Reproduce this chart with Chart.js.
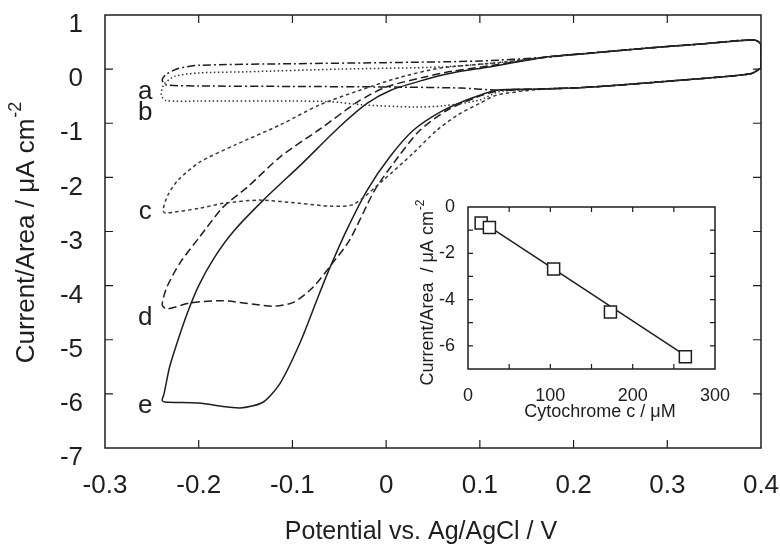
<!DOCTYPE html>
<html>
<head>
<meta charset="utf-8">
<script src="https://cdn.jsdelivr.net/npm/chart.js@4.4.0/dist/chart.umd.min.js"></script>
<style>
    body { margin: 0; background: #fff; }
    #wrap { position: relative; width: 780px; height: 547px; }
    #mainChart { position: absolute; left: 0; top: 0; }
    #insetChart { position: absolute; left: 395px; top: 195px; }
</style>
</head>
<body>
<div id="wrap">
    <canvas id="mainChart" width="780" height="547"></canvas>
    <canvas id="insetChart" width="340" height="230"></canvas>
</div>
<script>
// Voltammogramas a-e: potencial (V) y corriente (uA cm-2), cada uno es un lazo cerrado
var aPotential = [0.40, 0.40, 0.393, 0.34, 0.28, 0.22, 0.17, 0.10, 0.00, -0.10, -0.20, -0.222, -0.235, -0.239, -0.235, -0.20, -0.10, 0.00, 0.08, 0.12, 0.16, 0.21, 0.26, 0.31, 0.36, 0.39, 0.40];
var aCurrent = [0.02, 0.45, 0.54, 0.47, 0.39, 0.30, 0.22, 0.15, 0.12, 0.10, 0.07, 0.01, -0.10, -0.20, -0.29, -0.31, -0.32, -0.33, -0.35, -0.39, -0.37, -0.34, -0.28, -0.21, -0.14, -0.08, 0.02];

var bPotential = [0.40, 0.40, 0.393, 0.34, 0.28, 0.22, 0.17, 0.12, 0.06, -0.05, -0.15, -0.20, -0.225, -0.237, -0.24, -0.235, -0.20, -0.10, -0.06, -0.025, 0.03, 0.06, 0.10, 0.12, 0.16, 0.21, 0.26, 0.31, 0.36, 0.39, 0.40];
var bCurrent = [0.02, 0.45, 0.54, 0.47, 0.39, 0.30, 0.22, 0.12, 0.04, 0.00, -0.05, -0.07, -0.13, -0.28, -0.48, -0.58, -0.59, -0.59, -0.60, -0.66, -0.70, -0.68, -0.57, -0.42, -0.37, -0.34, -0.28, -0.21, -0.14, -0.08, 0.02];

var cPotential = [0.40, 0.40, 0.393, 0.34, 0.28, 0.22, 0.17, 0.12, 0.058, 0.015, -0.028, -0.071, -0.113, -0.161, -0.199, -0.222, -0.233, -0.238, -0.236, -0.199, -0.174, -0.135, -0.092, -0.06, -0.035, -0.003, 0.029, 0.054, 0.076, 0.10, 0.118, 0.16, 0.21, 0.26, 0.31, 0.36, 0.39, 0.40];
var cCurrent = [0.02, 0.45, 0.54, 0.47, 0.39, 0.30, 0.22, 0.12, 0.02, -0.15, -0.39, -0.66, -1.03, -1.40, -1.72, -2.05, -2.33, -2.60, -2.66, -2.57, -2.48, -2.42, -2.48, -2.53, -2.50, -2.05, -1.55, -1.13, -0.85, -0.63, -0.48, -0.38, -0.34, -0.28, -0.21, -0.14, -0.08, 0.02];

var dPotential = [0.40, 0.40, 0.393, 0.34, 0.28, 0.22, 0.17, 0.11, 0.07, 0.04, 0.00, -0.03, -0.07, -0.113, -0.148, -0.174, -0.199, -0.22, -0.234, -0.239, -0.234, -0.209, -0.174, -0.121, -0.099, -0.078, -0.057, -0.039, -0.012, 0.013, 0.036, 0.065, 0.095, 0.122, 0.16, 0.21, 0.26, 0.31, 0.36, 0.39, 0.40];
var dCurrent = [0.02, 0.45, 0.54, 0.47, 0.39, 0.30, 0.22, 0.06, -0.04, -0.15, -0.33, -0.60, -1.10, -1.62, -2.18, -2.55, -3.10, -3.58, -4.03, -4.36, -4.43, -4.32, -4.28, -4.38, -4.31, -4.03, -3.58, -3.16, -2.23, -1.62, -1.13, -0.76, -0.53, -0.39, -0.37, -0.34, -0.28, -0.21, -0.14, -0.08, 0.02];

var ePotential = [0.40, 0.40, 0.393, 0.34, 0.28, 0.22, 0.17, 0.11, 0.07, 0.04, 0.005, -0.02, -0.05, -0.09, -0.131, -0.163, -0.184, -0.200, -0.212, -0.222, -0.231, -0.237, -0.239, -0.236, -0.20, -0.156, -0.131, -0.113, -0.092, -0.074, -0.062, -0.042, -0.02, 0.004, 0.029, 0.058, 0.086, 0.118, 0.16, 0.21, 0.26, 0.31, 0.36, 0.39, 0.40];
var eCurrent = [0.02, 0.45, 0.54, 0.47, 0.39, 0.30, 0.22, 0.04, -0.07, -0.20, -0.39, -0.63, -1.07, -1.75, -2.42, -3.00, -3.50, -4.00, -4.50, -5.00, -5.50, -6.00, -6.12, -6.15, -6.17, -6.26, -6.15, -5.80, -5.06, -4.27, -3.75, -2.97, -2.23, -1.62, -1.13, -0.79, -0.57, -0.39, -0.37, -0.34, -0.28, -0.21, -0.14, -0.08, 0.02];

var curveNames = ['a', 'b', 'c', 'd', 'e'];

// Grafica insertada: corriente vs concentracion de citocromo c
var concentration = [16, 26, 104, 173, 264];
var insetCurrent = [-0.69, -0.89, -2.68, -4.54, -6.47];
var fitConcentration = [16, 266];
var fitCurrent = [-0.62, -6.47];

var fontFamily = "'Liberation Sans', Arial, Helvetica, sans-serif";
var ink = '#1e1e1e';

function toPoints(xs, ys) {
    var pts = [];
    for (var i = 0; i < xs.length; i++) {
        pts.push({ x: xs[i], y: ys[i] });
    }
    return pts;
}

// marco y marcas hacia adentro en los cuatro lados
function drawFrame(chart, len) {
    var ctx = chart.ctx, a = chart.chartArea;
    var xs = chart.scales.x, ys = chart.scales.y;
    ctx.save();
    ctx.strokeStyle = ink;
    ctx.lineWidth = 1.5;
    ctx.strokeRect(a.left, a.top, a.right - a.left, a.bottom - a.top);
    ctx.lineWidth = 1.2;
    ctx.beginPath();
    xs.ticks.forEach(function (t) {
        var p = xs.getPixelForValue(t.value);
        if (Math.abs(p - a.left) < 2 || Math.abs(p - a.right) < 2) return;
        ctx.moveTo(p, a.bottom); ctx.lineTo(p, a.bottom - len);
        ctx.moveTo(p, a.top); ctx.lineTo(p, a.top + len);
    });
    ys.ticks.forEach(function (t) {
        var p = ys.getPixelForValue(t.value);
        if (Math.abs(p - a.top) < 2 || Math.abs(p - a.bottom) < 2) return;
        ctx.moveTo(a.left, p); ctx.lineTo(a.left + len, p);
        ctx.moveTo(a.right, p); ctx.lineTo(a.right - len, p);
    });
    ctx.stroke();
    ctx.restore();
}

// titulo vertical con superindice
function drawYTitle(ctx, cx, cy, main, sup, size) {
    var supSize = Math.round(size * 0.68);
    ctx.save();
    ctx.translate(cx, cy);
    ctx.rotate(-Math.PI / 2);
    ctx.font = size + 'px ' + fontFamily;
    var w1 = ctx.measureText(main).width;
    ctx.font = supSize + 'px ' + fontFamily;
    var w2 = ctx.measureText(sup).width;
    var x0 = -(w1 + w2) / 2;
    ctx.fillStyle = ink;
    ctx.textAlign = 'left';
    ctx.textBaseline = 'middle';
    ctx.font = size + 'px ' + fontFamily;
    ctx.fillText(main, x0, 0);
    ctx.font = supSize + 'px ' + fontFamily;
    ctx.fillText(sup, x0 + w1 + 1, -size * 0.42);
    ctx.restore();
}

function drawText(ctx, text, x, y, size) {
    ctx.save();
    ctx.fillStyle = ink;
    ctx.font = size + 'px ' + fontFamily;
    ctx.textAlign = 'center';
    ctx.textBaseline = 'middle';
    ctx.fillText(text, x, y);
    ctx.restore();
}

var mainDecor = {
    id: 'mainDecor',
    afterDraw: function (chart) {
        var ctx = chart.ctx;
        var xs = chart.scales.x, ys = chart.scales.y;
        drawFrame(chart, 8);
        // etiquetas de las curvas
        var labelY = [-0.42, -0.81, -2.64, -4.6, -6.23];
        for (var i = 0; i < curveNames.length; i++) {
            drawText(ctx, curveNames[i], xs.getPixelForValue(-0.257), ys.getPixelForValue(labelY[i]), 26);
        }
        drawText(ctx, 'Potential vs. Ag/AgCl / V', 421, 532, 25);
        drawYTitle(ctx, 27, 233, 'Current/Area / \u03bcA cm', '-2', 26);
    }
};

var insetDecor = {
    id: 'insetDecor',
    beforeDraw: function (chart) {
        var a = chart.chartArea;
        chart.ctx.save();
        chart.ctx.fillStyle = '#fff';
        chart.ctx.fillRect(a.left, a.top, a.right - a.left, a.bottom - a.top);
        chart.ctx.restore();
    },
    afterDraw: function (chart) {
        drawFrame(chart, 5);
        drawText(chart.ctx, 'Cytochrome c / \u03bcM', 205, 217, 18);
        drawYTitle(chart.ctx, 33, 98, 'Current/Area  / \u03bcA cm', '-2', 18);
    }
};

var curveDash = [[8, 3, 2, 3], [1.5, 2.5], [3.5, 3], [8, 4], []];
var curveColor = [ink, '#333', '#3a3a3a', ink, ink];
var curveSets = [];
var curvePotential = [aPotential, bPotential, cPotential, dPotential, ePotential];
var curveCurrent = [aCurrent, bCurrent, cCurrent, dCurrent, eCurrent];
for (var k = 0; k < curveNames.length; k++) {
    curveSets.push({
        label: curveNames[k],
        data: toPoints(curvePotential[k], curveCurrent[k]),
        showLine: true,
        borderColor: curveColor[k],
        borderWidth: 1.5,
        borderDash: curveDash[k],
        tension: 0.25,
        pointRadius: 0,
        fill: false
    });
}

var mainChart = new Chart(document.getElementById('mainChart'), {
    type: 'scatter',
    data: { datasets: curveSets },
    options: {
        responsive: false,
        animation: false,
        devicePixelRatio: 1,
        layout: { padding: { top: 15, right: 19, left: 0, bottom: 0 } },
        plugins: { legend: { display: false }, tooltip: { enabled: false } },
        scales: {
            x: {
                type: 'linear', min: -0.3, max: 0.4,
                grid: { display: false }, border: { display: false },
                ticks: {
                    stepSize: 0.1, padding: 14, color: ink, maxRotation: 0, autoSkip: false,
                    font: { family: fontFamily, size: 26 },
                    callback: function (v) { return Math.abs(v) < 1e-9 ? '0' : v.toFixed(1); }
                },
                afterFit: function (s) { s.height = 99; s.paddingLeft = 0; s.paddingRight = 0; }
            },
            y: {
                type: 'linear', min: -7, max: 1,
                grid: { display: false }, border: { display: false },
                ticks: {
                    stepSize: 1, padding: 14, color: ink, labelOffset: 10,
                    font: { family: fontFamily, size: 26 }
                },
                afterFit: function (s) { s.width = 105; s.paddingTop = 0; s.paddingBottom = 0; }
            }
        }
    },
    plugins: [mainDecor]
});

var insetChart = new Chart(document.getElementById('insetChart'), {
    type: 'scatter',
    data: {
        datasets: [{
            label: 'datos',
            data: toPoints(concentration, insetCurrent),
            pointStyle: 'rect',
            pointRadius: 8.5,
            backgroundColor: '#fff',
            borderColor: ink,
            borderWidth: 1.5
        }, {
            label: 'ajuste',
            data: toPoints(fitConcentration, fitCurrent),
            showLine: true,
            borderColor: ink,
            borderWidth: 1.5,
            pointRadius: 0
        }]
    },
    options: {
        responsive: false,
        animation: false,
        devicePixelRatio: 1,
        layout: { padding: { top: 12, right: 20, left: 0, bottom: 0 } },
        plugins: { legend: { display: false }, tooltip: { enabled: false } },
        scales: {
            x: {
                type: 'linear', min: 0, max: 300,
                grid: { display: false }, border: { display: false },
                ticks: {
                    stepSize: 50, padding: 8, color: ink, maxRotation: 0, autoSkip: false,
                    font: { family: fontFamily, size: 18 },
                    callback: function (v) { return v % 100 === 0 ? String(v) : ''; }
                },
                afterFit: function (s) { s.height = 56; s.paddingLeft = 0; s.paddingRight = 0; }
            },
            y: {
                type: 'linear', min: -7, max: 0,
                grid: { display: false }, border: { display: false },
                ticks: {
                    stepSize: 1, padding: 5, color: ink, autoSkip: false,
                    font: { family: fontFamily, size: 18 },
                    callback: function (v) { return v % 2 === 0 ? String(v) : ''; }
                },
                afterFit: function (s) { s.width = 73; s.paddingTop = 0; s.paddingBottom = 0; }
            }
        }
    },
    plugins: [insetDecor]
});
</script>
</body>
</html>
